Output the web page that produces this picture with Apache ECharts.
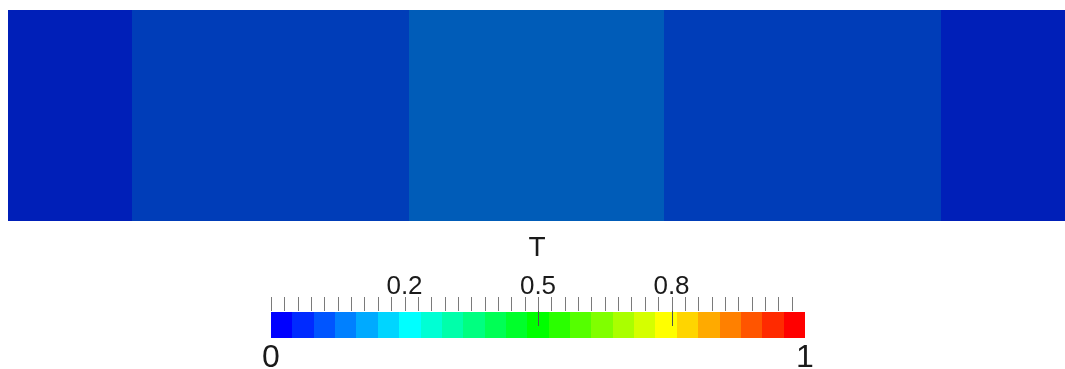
<!DOCTYPE html>
<html>
<head>
<meta charset="utf-8">
<title>T</title>
<script src="https://cdn.jsdelivr.net/npm/echarts@6/dist/echarts.min.js"></script>
<style>
  html, body { margin: 0; padding: 0; background: #ffffff; }
  #chart { width: 1065px; height: 369px; }
</style>
</head>
<body>
<div id="chart"></div>
<script>
// Field: five vertical bands along x (normalised length), each with a uniform T.
const bandEdges = [0, 0.117, 0.379, 0.621, 0.883, 1];
const bandT = [0.05, 0.09, 0.14, 0.09, 0.05];

// Colour legend
const legendTitle = 'T';
const tMin = 0;
const tMax = 1;
const colorBins = 25;
const minorTickStep = 0.025;
const minorTickCount = 40;          // ticks at 0 .. 0.975
const majorTickValues = [0.25, 0.5, 0.75];
const majorTickLabels = ['0.2', '0.5', '0.8'];
const longTickValues = [0.5, 0.75];
const endValues = [0, 1];
const endLabels = ['0', '1'];

// Blue -> red rainbow (HSV hue 240 -> 0), sampled per bin.
function hsvToHex(h, s, v) {
  const c = v * s, hp = h / 60, x = c * (1 - Math.abs(hp % 2 - 1));
  let r = 0, g = 0, b = 0;
  if (hp < 1) { r = c; g = x; }
  else if (hp < 2) { r = x; g = c; }
  else if (hp < 3) { g = c; b = x; }
  else if (hp < 4) { g = x; b = c; }
  else if (hp < 5) { r = x; b = c; }
  else { r = c; b = x; }
  const m = v - c;
  const to = u => Math.round((u + m) * 255).toString(16).padStart(2, '0');
  return '#' + to(r) + to(g) + to(b);
}
function buildPieces(shade) {
  const pieces = [];
  for (let i = 0; i < colorBins; i++) {
    const lo = tMin + (tMax - tMin) * i / colorBins;
    const hi = tMin + (tMax - tMin) * (i + 1) / colorBins;
    const hue = 240 * (1 - i / (colorBins - 1));
    const piece = { gte: lo, color: hsvToHex(hue, 1, shade) };
    if (i < colorBins - 1) piece.lt = hi; else piece.lte = hi;
    pieces.push(piece);
  }
  return pieces;
}

const fieldData = bandT.map((t, i) => [bandEdges[i], bandEdges[i + 1], t]);
const legendData = [];
for (let i = 0; i < colorBins; i++) {
  const lo = tMin + (tMax - tMin) * i / colorBins;
  const hi = tMin + (tMax - tMin) * (i + 1) / colorBins;
  legendData.push([lo, hi, (lo + hi) / 2]);
}
const minorTickData = [];
for (let k = 0; k < minorTickCount; k++) minorTickData.push([k * minorTickStep]);
const longTickData = longTickValues.map(v => [v]);

function rectItem(params, api) {
  const a = api.coord([api.value(0), 1]);
  const b = api.coord([api.value(1), 0]);
  const x0 = Math.round(a[0]), x1 = Math.round(b[0]);
  const y0 = Math.round(a[1]), y1 = Math.round(b[1]);
  return {
    type: 'rect',
    shape: { x: x0, y: y0, width: x1 - x0, height: y1 - y0 },
    style: { fill: api.visual('color') }
  };
}
// Vertical tick at a value: dy0/dy1 are offsets from the bar's top edge.
function tickRenderer(dy0, dy1, color) {
  return function (params, api) {
    const top = api.coord([api.value(0), 1]);
    const x = Math.round(top[0]) + 0.5;
    return {
      type: 'line',
      shape: { x1: x, y1: Math.round(top[1]) + dy0, x2: x, y2: Math.round(top[1]) + dy1 },
      style: { stroke: color, lineWidth: 1 }
    };
  };
}
function labelFor(values, labels) {
  return v => {
    const i = values.findIndex(m => Math.abs(m - v) < 1e-6);
    return i >= 0 ? labels[i] : '';
  };
}

const FONT = 'Liberation Sans, Arial, sans-serif';
const chart = echarts.init(document.getElementById('chart'), null, { renderer: 'canvas' });
chart.setOption({
  animation: false,
  backgroundColor: '#ffffff',
  grid: [
    { left: 8, top: 10, width: 1057, height: 211, outerBoundsMode: 'none', containLabel: false },
    { left: 271, top: 312, width: 534, height: 26, outerBoundsMode: 'none', containLabel: false }
  ],
  xAxis: [
    { gridIndex: 0, type: 'value', min: 0, max: 1, show: false },
    {
      gridIndex: 1, type: 'value', min: tMin, max: tMax, interval: minorTickStep,
      position: 'top',
      axisLine: { show: false }, splitLine: { show: false }, axisTick: { show: false },
      axisLabel: {
        show: true, interval: 0, margin: 12, hideOverlap: false,
        showMinLabel: true, showMaxLabel: true,
        fontSize: 26, fontFamily: FONT, color: '#1a1a1a',
        formatter: labelFor(majorTickValues, majorTickLabels)
      }
    },
    {
      gridIndex: 1, type: 'value', min: tMin, max: tMax, interval: 1,
      position: 'bottom',
      axisLine: { show: false }, splitLine: { show: false }, axisTick: { show: false },
      axisLabel: {
        show: true, margin: 4,
        showMinLabel: true, showMaxLabel: true,
        fontSize: 32, fontFamily: FONT, color: '#1a1a1a',
        formatter: labelFor(endValues, endLabels)
      }
    }
  ],
  yAxis: [
    { gridIndex: 0, type: 'value', min: 0, max: 1, show: false },
    { gridIndex: 1, type: 'value', min: 0, max: 1, show: false }
  ],
  visualMap: [
    { type: 'piecewise', show: false, seriesIndex: 0, dimension: 2, pieces: buildPieces(0.72) },
    { type: 'piecewise', show: false, seriesIndex: 1, dimension: 2, pieces: buildPieces(1) }
  ],
  graphic: [{
    type: 'text', x: 537, y: 234, z: 10,
    style: { text: legendTitle, font: '28px ' + FONT, fill: '#1a1a1a',
      textAlign: 'center', textVerticalAlign: 'top' }
  }],
  series: [
    {
      type: 'custom', name: 'T', xAxisIndex: 0, yAxisIndex: 0,
      renderItem: rectItem, encode: { x: [0, 1] }, data: fieldData
    },
    {
      type: 'custom', name: 'legend', xAxisIndex: 1, yAxisIndex: 1,
      renderItem: rectItem, encode: { x: [0, 1] }, data: legendData, z: 1
    },
    {
      type: 'custom', name: 'ticks', xAxisIndex: 1, yAxisIndex: 1, clip: false,
      renderItem: tickRenderer(-15, -1, '#7a7a7a'), encode: { x: 0 }, data: minorTickData, z: 5
    },
    {
      type: 'custom', name: 'majorTicks', xAxisIndex: 1, yAxisIndex: 1, clip: false,
      renderItem: tickRenderer(-1, 14, '#505050'), encode: { x: 0 }, data: longTickData, z: 6
    }
  ]
});
</script>
</body>
</html>
